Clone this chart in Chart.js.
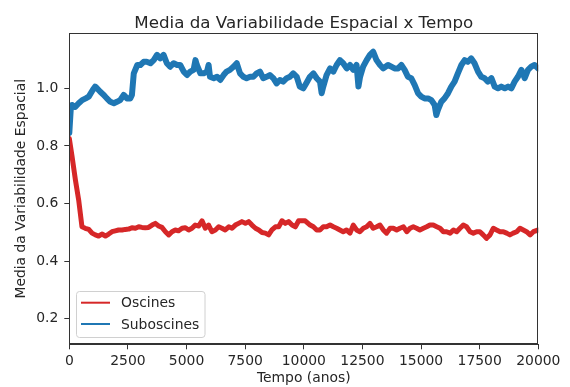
<!DOCTYPE html>
<html>
<head>
<meta charset="utf-8">
<script src="https://cdn.jsdelivr.net/npm/chart.js@4.4.1/dist/chart.umd.min.js"></script>
<style>
  body { margin: 0; background: #fff; }
  #wrap { width: 570px; height: 387px; position: relative; }
</style>
</head>
<body>
<div id="wrap"><canvas id="c"></canvas></div>
<script>
// values
var seriesNames = ['Oscines', 'Suboscines'];
var seriesColors = ['#d62728', '#1f77b4'];

var xTicks = [0, 2500, 5000, 7500, 10000, 12500, 15000, 17500, 20000];
var yTicks = [0.2, 0.4, 0.6, 0.8, 1.0];

var oscYears = [0, 120, 260, 400, 540, 680, 830, 970, 1110, 1250, 1390, 1540, 1680, 1820, 1960,
  2100, 2250, 2390, 2530, 2670, 2820, 2960, 3100, 3240, 3380, 3530, 3670, 3810, 3950, 4100,
  4240, 4380, 4520, 4660, 4810, 4950, 5090, 5230, 5370, 5520, 5660, 5800, 5940, 6080, 6230,
  6370, 6510, 6650, 6800, 6940, 7080, 7220, 7360, 7510, 7650, 7790, 7940, 8080, 8220, 8360,
  8500, 8640, 8790, 8930, 9070, 9210, 9350, 9500, 9640, 9780, 9920, 10060, 10270, 10410, 10550,
  10690, 10830, 10970, 11120, 11260, 11400, 11540, 11680, 11820, 11970, 12110, 12250, 12390, 12540, 12680,
  12820, 12960, 13110, 13250, 13390, 13530, 13680, 13820, 13960, 14100, 14250, 14390, 14530, 14670, 14810,
  14950, 15100, 15240, 15380, 15520, 15670, 15810, 15950, 16090, 16240, 16380, 16520, 16660, 16800, 16940,
  17090, 17230, 17370, 17510, 17650, 17790, 17940, 18080, 18220, 18370, 18510, 18650, 18790, 18930, 19080,
  19220, 19360, 19500, 19650, 19790, 20000];
var oscValues = [0.826, 0.762, 0.682, 0.612, 0.519, 0.514, 0.510, 0.497, 0.491, 0.487, 0.494, 0.487, 0.494, 0.502, 0.505,
  0.508, 0.508, 0.510, 0.511, 0.516, 0.514, 0.519, 0.517, 0.516, 0.517, 0.525, 0.531, 0.522, 0.517, 0.502,
  0.491, 0.502, 0.508, 0.505, 0.514, 0.516, 0.508, 0.514, 0.525, 0.522, 0.540, 0.514, 0.525, 0.502, 0.508,
  0.519, 0.514, 0.508, 0.519, 0.514, 0.525, 0.531, 0.537, 0.531, 0.537, 0.525, 0.514, 0.508, 0.499, 0.497,
  0.491, 0.508, 0.519, 0.519, 0.540, 0.531, 0.537, 0.525, 0.519, 0.540, 0.540, 0.540, 0.525, 0.519, 0.508,
  0.508, 0.519, 0.519, 0.525, 0.519, 0.514, 0.508, 0.502, 0.508, 0.497, 0.525, 0.508, 0.502, 0.514, 0.519,
  0.531, 0.514, 0.519, 0.525, 0.508, 0.497, 0.514, 0.514, 0.508, 0.514, 0.519, 0.502, 0.514, 0.519, 0.514,
  0.508, 0.514, 0.519, 0.525, 0.525, 0.519, 0.514, 0.502, 0.502, 0.497, 0.508, 0.502, 0.514, 0.525, 0.519,
  0.502, 0.497, 0.502, 0.502, 0.491, 0.479, 0.491, 0.514, 0.508, 0.502, 0.502, 0.497, 0.491, 0.497, 0.502,
  0.514, 0.508, 0.502, 0.491, 0.502, 0.508];

var subYears = [0, 60, 120, 250, 400, 550, 700, 830, 1000, 1100, 1180, 1320, 1470, 1600, 1750,
  1900, 2030, 2170, 2320, 2460, 2600, 2670, 2750, 2900, 3030, 3170, 3300, 3460, 3600, 3740,
  3880, 4020, 4160, 4300, 4450, 4600, 4730, 4880, 5020, 5160, 5300, 5380, 5440, 5590, 5730,
  5870, 5940, 6000, 6160, 6300, 6440, 6580, 6710, 6850, 7000, 7140, 7280, 7420, 7560, 7710,
  7850, 7990, 8130, 8270, 8410, 8550, 8700, 8840, 8980, 9120, 9270, 9410, 9550, 9700, 9830,
  9980, 10100, 10260, 10410, 10550, 10690, 10760, 10830, 10970, 11120, 11260, 11400, 11540, 11680, 11830,
  11970, 12110, 12250, 12330, 12400, 12530, 12680, 12820, 12960, 13100, 13250, 13390, 13590, 13730, 13870,
  14020, 14160, 14300, 14440, 14580, 14730, 14870, 15010, 15150, 15300, 15440, 15580, 15650, 15720, 15860,
  16000, 16150, 16290, 16430, 16570, 16720, 16860, 17000, 17140, 17280, 17430, 17570, 17710, 17850, 18000,
  18140, 18280, 18420, 18570, 18710, 18850, 18990, 19130, 19280, 19420, 19560, 19700, 19840, 20000];
var subValues = [0.845, 0.925, 0.942, 0.935, 0.948, 0.959, 0.965, 0.971, 0.994, 1.006, 1.000, 0.988, 0.977, 0.965, 0.953,
  0.948, 0.953, 0.959, 0.977, 0.965, 0.965, 0.977, 1.052, 1.081, 1.081, 1.092, 1.092, 1.087, 1.098, 1.116,
  1.104, 1.116, 1.087, 1.075, 1.087, 1.081, 1.081, 1.058, 1.046, 1.058, 1.064, 1.098, 1.081, 1.052, 1.052,
  1.058, 1.081, 1.040, 1.035, 1.040, 1.029, 1.046, 1.058, 1.064, 1.075, 1.087, 1.052, 1.040, 1.035, 1.040,
  1.040, 1.052, 1.058, 1.035, 1.040, 1.046, 1.035, 1.017, 1.029, 1.023, 1.035, 1.040, 1.052, 1.040, 1.006,
  1.000, 1.017, 1.040, 1.052, 1.035, 1.023, 0.983, 1.006, 1.046, 1.069, 1.058, 1.081, 1.098, 1.087, 1.069,
  1.081, 1.064, 1.081, 1.006, 1.040, 1.075, 1.098, 1.116, 1.127, 1.098, 1.081, 1.069, 1.081, 1.075, 1.069,
  1.069, 1.081, 1.064, 1.040, 1.035, 1.011, 0.983, 0.971, 0.965, 0.965, 0.959, 0.942, 0.907, 0.925, 0.953,
  0.965, 0.983, 1.006, 1.023, 1.052, 1.081, 1.098, 1.092, 1.104, 1.087, 1.058, 1.040, 1.035, 1.023, 1.035,
  1.006, 1.000, 1.006, 1.000, 1.006, 1.000, 1.023, 1.040, 1.064, 1.035, 1.064, 1.075, 1.081, 1.069];

var yMin = 0.111, yMax = 1.191;
var textColor = '#262626';
var fontFamily = "'DejaVu Sans', sans-serif";

function toPoints(xs, ys) {
  return xs.map(function (x, i) { return { x: x, y: ys[i] }; });
}

// frame, title and legend drawn on top like matplotlib does
var extras = {
  id: 'extras',
  afterDraw: function (chart) {
    var ctx = chart.ctx, a = chart.chartArea;
    ctx.save();
    ctx.strokeStyle = '#333';
    ctx.lineWidth = 1;
    ctx.strokeRect(Math.round(a.left) + 0.5, Math.round(a.top) + 0.5,
      Math.round(a.right - a.left) - 1, Math.round(a.bottom - a.top) - 1);

    ctx.fillStyle = textColor;
    ctx.font = "16.7px " + fontFamily;
    ctx.textAlign = 'center';
    ctx.textBaseline = 'alphabetic';
    ctx.fillText('Media da Variabilidade Espacial x Tempo', (a.left + a.right) / 2, 28);

    // legend box
    var bx = 76.5, by = 291.5, bw = 128.5, bh = 46, r = 3;
    ctx.beginPath();
    ctx.moveTo(bx + r, by);
    ctx.arcTo(bx + bw, by, bx + bw, by + bh, r);
    ctx.arcTo(bx + bw, by + bh, bx, by + bh, r);
    ctx.arcTo(bx, by + bh, bx, by, r);
    ctx.arcTo(bx, by, bx + bw, by, r);
    ctx.closePath();
    ctx.fillStyle = 'rgba(255,255,255,0.8)';
    ctx.fill();
    ctx.strokeStyle = '#d0d0d0';
    ctx.stroke();

    chart.data.datasets.forEach(function (ds, i) {
      var ly = 302.7 + i * 21.3;
      ctx.strokeStyle = ds.borderColor;
      ctx.lineWidth = 2;
      ctx.beginPath();
      ctx.moveTo(81, ly);
      ctx.lineTo(110, ly);
      ctx.stroke();
      ctx.fillStyle = textColor;
      ctx.font = "13.9px " + fontFamily;
      ctx.textAlign = 'left';
      ctx.textBaseline = 'middle';
      ctx.fillText(ds.label, 121, ly + 1);
    });
    ctx.restore();
  }
};

new Chart(document.getElementById('c'), {
  type: 'line',
  data: {
    datasets: [
      { label: seriesNames[0], data: toPoints(oscYears, oscValues), borderColor: seriesColors[0],
        backgroundColor: seriesColors[0], borderWidth: 5, borderJoinStyle: 'round', borderCapStyle: 'round',
        pointRadius: 0, tension: 0, clip: 0 },
      { label: seriesNames[1], data: toPoints(subYears, subValues), borderColor: seriesColors[1],
        backgroundColor: seriesColors[1], borderWidth: 6, borderJoinStyle: 'round', borderCapStyle: 'round',
        pointRadius: 0, tension: 0, clip: 0 }
    ]
  },
  options: {
    responsive: true,
    maintainAspectRatio: false,
    animation: false,
    devicePixelRatio: 1,
    layout: { padding: { top: 33.3, right: 31.7, left: 0, bottom: 0 } },
    plugins: {
      legend: { display: false },
      title: { display: false },
      tooltip: { enabled: false }
    },
    scales: {
      x: {
        type: 'linear',
        min: 0,
        max: 20000,
        afterBuildTicks: function (s) { s.ticks = xTicks.map(function (v) { return { value: v }; }); },
        afterFit: function (s) { s.height = 42.7; },
        ticks: {
          color: textColor, padding: 4, maxRotation: 0, autoSkip: false,
          font: { family: fontFamily, size: 13.9 },
          callback: function (v) { return String(v); }
        },
        grid: { drawOnChartArea: false, drawTicks: true, tickLength: 5, color: '#333' },
        border: { display: true, color: '#333', width: 1 },
        title: {
          display: true, text: 'Tempo (anos)', color: textColor,
          font: { family: fontFamily, size: 13.9 }, padding: { top: 0, bottom: 0 }
        }
      },
      y: {
        min: yMin,
        max: yMax,
        afterBuildTicks: function (s) { s.ticks = yTicks.map(function (v) { return { value: v }; }); },
        afterFit: function (s) { s.width = 69.3; },
        ticks: {
          color: textColor, padding: 6, autoSkip: false,
          font: { family: fontFamily, size: 13.9 },
          callback: function (v) { return v.toFixed(1); }
        },
        grid: { drawOnChartArea: false, drawTicks: true, tickLength: 5, color: '#333' },
        border: { display: true, color: '#333', width: 1 },
        title: {
          display: true, text: 'Media da Variabilidade Espacial', color: textColor,
          font: { family: fontFamily, size: 13.9 }, padding: { top: 13.3, bottom: 0 }
        }
      }
    }
  },
  plugins: [extras]
});
</script>
</body>
</html>
